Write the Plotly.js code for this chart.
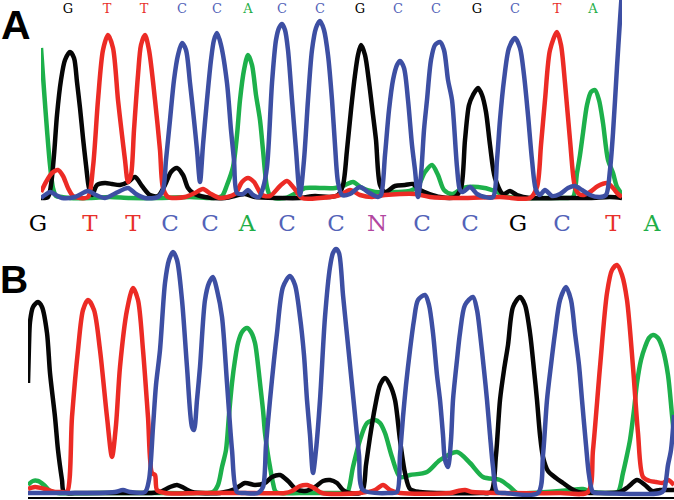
<!DOCTYPE html>
<html><head><meta charset="utf-8">
<script src="https://cdn.plot.ly/plotly-3.0.1.min.js"></script>
<style>html,body{margin:0;padding:0;background:#fff;}#chart{width:674px;height:500px;}</style>
</head><body><div id="chart"></div>
<script>
// ---- Base calls ----
const basesA = ["G","T","T","C","C","A","C","C","G","C","C","G","C","T","A"];
const callPosA = [68,107,144,182,217,248,282,320,360,398,436,477,515,557,593];
const basesB = ["G","T","T","C","C","A","C","C","N","C","C","G","C","T","A"];
const callPosB = [38,90,133,170,210,247,287,336,377,422,470,518,562,613,652];

// ---- Panel A traces: scan position, signal ----
const A_green_scan = [41,44,47,50,53,56,62,70,90,110,130,160,190,213,222,227,233,237,240,244,248,252,256,260,263,267,271,285,298,305,320,335,345,353,362,375,395,410,418,425,432,438,444,452,463,478,495,505,520,545,565,573,577,580,583,587,591,595,599,603,608,613,617,622];
const A_green_sig  = [152,110,70,35,12,4,3,2,2,3,2,2,3,2,4,15,33,65,100,130,145,135,105,80,50,13,3,2,8,12,12,12,15,18,12,8,8,9,14,28,35,25,10,6,12,13,9,4,2,2,2,3,27,45,67,95,108,110,100,77,40,27,13,6];

const A_black_scan = [41,48,51,54,57,61,65,70,74,77,80,83,86,89,92,97,105,112,120,128,135,142,150,158,165,171,177,183,188,193,205,225,245,255,280,300,315,330,338,343,347,351,355,358,361,365,369,373,376,380,385,395,405,413,420,440,455,461,465,469,473,478,482,486,490,495,503,510,517,530,560,590,610,622];
const A_black_sig  = [2,3,15,45,85,120,140,148,142,118,92,62,35,12,5,15,17,16,15,18,23,14,5,4,15,28,32,25,12,7,3,2,6,3,2,2,4,3,5,15,50,90,125,145,155,145,118,85,60,15,8,14,15,16,10,3,3,12,60,95,105,112,105,88,55,22,6,9,5,2,2,2,3,2];

const A_red_scan = [41,46,52,58,63,68,73,80,88,93,98,103,108,113,118,122,125,128,131,134,138,141,145,149,155,160,163,168,185,195,203,211,220,235,242,248,254,262,270,280,287,294,302,320,340,350,360,372,385,400,415,430,460,500,530,537,541,545,550,557,561,565,570,575,579,584,590,598,607,613,618,622];
const A_red_sig  = [8,18,27,30,24,12,4,2,3,33,100,150,165,152,100,65,40,18,25,70,125,155,165,150,100,50,12,3,3,7,11,6,2,6,18,22,18,5,4,14,19,12,2,2,5,10,5,3,5,6,6,3,2,3,2,13,55,100,150,168,155,117,60,13,6,5,8,14,17,12,6,3];

const A_blue_scan = [41,45,50,56,62,75,88,96,105,118,128,136,145,158,163,166,170,174,178,182,186,190,194,197,200,203,207,211,214,217,221,227,231,234,237,243,248,253,259,263,267,272,276,279,282,285,288,292,296,300,304,308,312,316,320,324,328,332,335,338,342,350,360,368,378,381,385,389,393,397,400,404,408,412,415,418,421,424,427,431,435,440,444,448,452,457,460,463,470,477,485,493,497,500,504,509,515,520,524,528,532,536,540,545,552,560,568,575,582,590,600,606,610,613,617,620,622];
const A_blue_sig  = [2,5,8,5,2,3,9,5,2,8,12,6,2,3,10,40,80,120,145,157,150,117,80,50,18,55,100,140,160,167,155,117,70,40,7,6,10,5,3,12,33,117,160,172,176,170,150,100,50,5,40,100,150,172,179,170,145,100,55,18,5,6,13,8,3,5,45,90,120,135,139,132,100,55,30,3,25,70,100,140,155,158,150,120,100,33,10,8,13,6,3,3,40,80,120,152,162,152,125,85,40,10,5,10,4,6,12,14,10,5,3,5,30,67,133,180,210];

// ---- Panel B traces ----
const B_green_scan = [28,33,38,44,50,58,100,150,200,213,218,222,226,229,232,235,238,242,247,251,255,258,260,263,265,268,270,273,276,300,340,347,353,360,367,375,380,385,392,400,410,427,440,457,470,483,500,510,517,530,560,570,583,592,610,618,623,627,630,634,637,641,645,649,653,658,663,668,672,674];
const B_green_sig  = [10,14,14,10,4,2,2,2,2,3,10,28,45,80,112,135,152,163,167,163,152,130,112,85,62,40,28,12,3,2,2,2,28,55,72,75,72,62,38,18,20,23,35,43,32,18,15,8,2,2,4,5,6,3,2,3,22,40,55,85,112,135,148,157,160,157,145,120,80,60];

const B_black_scan = [28,29,30,33,38,42,47,50,55,58,62,64,80,120,150,160,170,177,184,192,220,235,245,255,265,272,280,288,296,305,315,323,330,337,343,350,362,366,370,375,380,385,390,395,400,405,410,420,440,480,491,496,500,504,508,513,520,525,530,534,537,540,543,548,556,563,570,578,600,620,628,637,645,652,660,674];
const B_black_sig  = [112,150,173,188,193,188,162,122,78,45,15,3,2,2,2,3,8,10,7,3,2,6,12,10,12,18,20,14,6,4,8,14,15,12,5,2,3,30,58,88,110,117,110,95,55,22,6,3,2,2,3,40,95,125,150,188,198,190,162,125,95,60,38,24,17,12,7,3,2,3,8,15,10,4,5,5];

const B_red_scan = [28,35,45,55,62,67,72,78,83,88,94,100,107,112,116,120,127,133,138,143,148,152,155,157,165,200,250,285,292,300,307,314,322,360,375,383,390,400,450,458,465,472,500,560,588,593,600,607,612,617,622,627,633,638,643,650,656,663,668,674];
const B_red_sig  = [6,8,6,3,3,3,78,145,185,195,185,145,78,38,70,128,185,207,195,145,78,22,20,5,2,2,2,2,4,9,10,7,2,2,5,10,5,2,2,4,5,3,2,2,3,45,128,202,225,230,220,195,128,62,18,14,13,12,15,10];

const B_blue_scan = [28,60,100,115,123,130,145,149,153,156,160,165,169,173,177,182,187,192,194,197,200,205,209,213,217,222,227,232,237,245,258,263,266,270,274,277,283,290,295,300,304,307,310,313,316,320,325,330,333,336,339,343,347,351,355,359,363,390,397,400,403,406,410,414,418,425,429,433,437,440,443,445,448,451,453,457,460,465,473,477,480,484,487,490,493,497,505,538,543,547,551,555,560,566,571,575,579,582,586,589,593,600,660,664,668,671,674];
const B_blue_sig  = [2,2,2,3,5,3,3,15,68,110,145,212,235,243,235,195,128,68,65,95,128,195,212,218,205,178,112,45,3,2,2,8,50,95,135,162,208,219,210,178,140,95,60,22,45,95,178,228,242,246,242,200,160,120,80,40,5,2,3,40,78,110,145,175,195,200,190,162,120,95,60,35,28,55,95,135,162,190,198,185,162,125,95,60,28,3,2,2,40,95,130,162,195,208,195,162,130,95,50,20,3,2,2,5,30,45,80];

function baseColor(b) {
  return {G:"#000000", T:"#e8302a", C:"#5363b8", A:"#1fae48", N:"#b2479f"}[b];
}
const traceCol = {green:"#1db04b", black:"#060606", red:"#ec2b25", blue:"#3d4fa3"};

function curve(xs, ys, col, xa, ya) {
  return {x: xs, y: ys, type: "scatter", mode: "lines", xaxis: xa, yaxis: ya,
          line: {color: col, width: 4.5, shape: "spline", smoothing: 0.8},
          hoverinfo: "skip"};
}

const callFont = "DejaVu Serif";

const data = [
  curve(A_green_scan, A_green_sig, traceCol.green, "x", "y"),
  curve(A_black_scan, A_black_sig, traceCol.black, "x", "y"),
  curve(A_red_scan, A_red_sig, traceCol.red, "x", "y"),
  curve(A_blue_scan, A_blue_sig, traceCol.blue, "x", "y"),
  curve(B_green_scan, B_green_sig, traceCol.green, "x2", "y2"),
  curve(B_black_scan, B_black_sig, traceCol.black, "x2", "y2"),
  curve(B_red_scan, B_red_sig, traceCol.red, "x2", "y2"),
  curve(B_blue_scan, B_blue_sig, traceCol.blue, "x2", "y2"),
  {x: callPosA, y: callPosA.map(() => 190), text: basesA, type: "scatter", mode: "text",
   xaxis: "x", yaxis: "y", cliponaxis: false, hoverinfo: "skip",
   textfont: {family: callFont, size: 13, color: basesA.map(baseColor)}},
  {x: callPosB, y: callPosB.map(() => 270), text: basesB, type: "scatter", mode: "text",
   xaxis: "x2", yaxis: "y2", cliponaxis: false, hoverinfo: "skip",
   textfont: {family: callFont, size: 23, color: basesB.map(baseColor)}}
];

const hidden = {visible: false, fixedrange: true};
const layout = {
  width: 674, height: 500,
  margin: {l: 0, r: 0, t: 0, b: 0, pad: 0},
  paper_bgcolor: "#ffffff", plot_bgcolor: "#ffffff",
  showlegend: false,
  xaxis: Object.assign({}, hidden, {range: [41, 622], domain: [41/674, 622/674]}),
  yaxis: Object.assign({}, hidden, {range: [-2, 200], domain: [0.596, 1.0]}),
  xaxis2: {range: [28, 674], domain: [28/674, 1], anchor: "y2", showgrid: false, zeroline: false,
           showticklabels: false, ticks: "", showline: true, linecolor: "#000000", linewidth: 2, fixedrange: true},
  yaxis2: Object.assign({}, hidden, {range: [-2, 290], domain: [0.006, 0.59], anchor: "x2"}),
  annotations: [
    {text: "<b>A</b>", xref: "paper", yref: "paper", x: 16/674, y: 1 - 25/500, showarrow: false,
     xanchor: "center", yanchor: "middle", font: {family: "Liberation Sans", size: 41, color: "#000"}},
    {text: "<b>B</b>", xref: "paper", yref: "paper", x: 14/674, y: 1 - 279/500, showarrow: false,
     xanchor: "center", yanchor: "middle", font: {family: "Liberation Sans", size: 39, color: "#000"}}
  ]
};

Plotly.newPlot("chart", data, layout, {staticPlot: true, displayModeBar: false});
</script>
</body></html>
